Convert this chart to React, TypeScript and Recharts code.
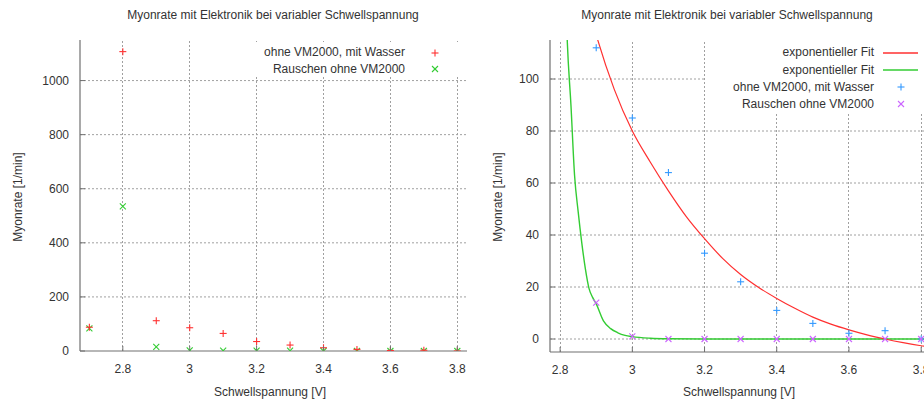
import React from "react";
import { ComposedChart, Scatter, Line, XAxis, YAxis, ReferenceLine } from "recharts";

// ---- data ----
const voltages = [2.7, 2.8, 2.9, 3.0, 3.1, 3.2, 3.3, 3.4, 3.5, 3.6, 3.7, 3.8];
const rateWaterLeft = [88, 1107, 112, 86, 65, 35, 22, 12, 6, 2, 3, 0];
const rateNoiseLeft = [84, 535, 15, 2, 1, 1, 1, 0, 0, 0, 0, 0];
const rateWater = [88, 1107, 112, 85, 64, 33, 22, 11, 6, 2.2, 3.2, 0];
const rateNoise = [84, 535, 14, 1, 0, 0, 0, 0, 0, 0, 0, 0];

const redFitX = [2.88, 2.9, 2.95, 3.0, 3.05, 3.1, 3.15, 3.2, 3.25, 3.3, 3.35, 3.4, 3.45, 3.5, 3.55, 3.6, 3.65, 3.7, 3.75, 3.8, 3.83];
const redFitY = [127, 117, 96, 80, 68, 57, 47, 38.6, 31, 24.8, 19.8, 15.6, 11.8, 8.4, 5.7, 3.5, 1.6, 0, -1.4, -2.6, -3.2];
const greenFitX = [2.8, 2.81, 2.82, 2.83, 2.84, 2.85, 2.86, 2.87, 2.88, 2.89, 2.9, 2.92, 2.94, 2.96, 2.98, 3.0, 3.05, 3.1, 3.2, 3.4, 3.6, 3.83];
const greenFitY = [230, 160, 114, 90, 63, 49, 37, 27, 19.5, 16, 13.5, 7, 4, 2.4, 1.4, 0.9, 0.3, 0.1, 0, 0, 0, 0];

const xTicks = [2.8, 3.0, 3.2, 3.4, 3.6, 3.8];
const yTicksLeft = [0, 200, 400, 600, 800, 1000];
const yTicksRight = [0, 20, 40, 60, 80, 100];

const TITLE = "Myonrate mit Elektronik bei variabler Schwellspannung";
const XLABEL = "Schwellspannung [V]";
const YLABEL = "Myonrate [1/min]";
const LEG_WATER = "ohne VM2000, mit Wasser";
const LEG_NOISE = "Rauschen ohne VM2000";
const LEG_FIT = "exponentieller Fit";

// ---- styles ----
const FONT = '"Liberation Sans", Arial, Helvetica, sans-serif';
const TXT = "#333";
const AXIS = "#707070";
const GRID = "#a0a0a0";
const RED = "#ff3030";
const GREEN = "#33cc33";
const BLUE = "#3399ff";
const PURPLE = "#cc66ff";

const pairs = (xs: number[], ys: number[]) => xs.map((x, i) => ({ x, y: ys[i] }));
const fmt = (v: number) => String(+v.toFixed(1));

const Plus = ({ cx, cy, color, s = 3.5 }: any) => (
  <g stroke={color} strokeWidth={1.1}>
    <line x1={cx - s} x2={cx + s} y1={cy} y2={cy} />
    <line x1={cx} x2={cx} y1={cy - s} y2={cy + s} />
  </g>
);
const Cross = ({ cx, cy, color, s = 3 }: any) => (
  <g stroke={color} strokeWidth={1.1}>
    <line x1={cx - s} x2={cx + s} y1={cy - s} y2={cy + s} />
    <line x1={cx - s} x2={cx + s} y1={cy + s} y2={cy - s} />
  </g>
);

const XTickBottom = (props: any) => {
  const { x, y, payload } = props;
  const ay = y - 13;
  return (
    <g>
      <line x1={x} x2={x} y1={ay} y2={ay - 5} stroke={AXIS} />
      <text x={x} y={y} dy="0.71em" textAnchor="middle" fill={TXT} fontSize={12} fontFamily={FONT}>
        {fmt(payload.value)}
      </text>
    </g>
  );
};
const XTickTop = (props: any) => {
  const { x, y } = props;
  return <line x1={x} x2={x} y1={y} y2={y + 5} stroke={AXIS} />;
};
const YTickLeft = (props: any) => {
  const { x, y, payload } = props;
  const ax = x + 11;
  return (
    <g>
      <line x1={ax} x2={ax + 5} y1={y} y2={y} stroke={AXIS} />
      <text x={x} y={y} dy="0.36em" textAnchor="end" fill={TXT} fontSize={12} fontFamily={FONT}>
        {fmt(payload.value)}
      </text>
    </g>
  );
};
const YTickRight = (props: any) => {
  const { x, y } = props;
  return <line x1={x} x2={x - 5} y1={y} y2={y} stroke={AXIS} />;
};

const abs = (left: number, top: number, extra: any = {}) => ({
  position: "absolute" as const,
  left,
  top,
  fontFamily: FONT,
  fontSize: 12,
  color: TXT,
  whiteSpace: "nowrap" as const,
  ...extra,
});

const Centered = ({ cx, cy, text }: any) => (
  <div style={abs(cx - 200, cy - 8, { width: 400, textAlign: "center", lineHeight: "16px" })}>{text}</div>
);
const YLab = ({ cx, cy }: any) => (
  <div
    style={abs(cx - 100, cy - 8, {
      width: 200,
      textAlign: "center",
      lineHeight: "16px",
      transform: "rotate(-90deg)",
    })}
  >
    {YLABEL}
  </div>
);
const LegendText = ({ right, cy, text }: any) => (
  <div style={abs(right - 250, cy - 8.5, { width: 250, textAlign: "right", lineHeight: "17px" })}>{text}</div>
);
const LegendMark = ({ cx, cy, kind, color }: any) => (
  <svg style={{ position: "absolute", left: cx - 20, top: cy - 8, overflow: "visible" }} width={40} height={16}>
    {kind === "plus" && <Plus cx={20} cy={8} color={color} />}
    {kind === "cross" && <Cross cx={20} cy={8} color={color} />}
    {kind === "line" && <line x1={3} x2={38} y1={8} y2={8} stroke={color} strokeWidth={1.3} />}
  </svg>
);

// vertical grid via reference lines, horizontal grid via flat line series spanning the x domain
const gridLines = (xs: number[], ys: number[], dom: [number, number]) => [
  ...xs.map((v) => (
    <ReferenceLine key={"gx" + v} xAxisId="b" yAxisId="l" x={v} stroke={GRID} strokeDasharray="2 2" strokeWidth={1} shapeRendering="crispEdges" />
  )),
  ...ys.map((v) => (
    <Line
      key={"gy" + v}
      xAxisId="b"
      yAxisId="l"
      data={[{ x: dom[0], y: v }, { x: dom[1], y: v }]}
      dataKey="y"
      type="linear"
      stroke={GRID}
      strokeDasharray="2 2"
      strokeWidth={1}
      dot={false}
      activeDot={false}
      legendType="none"
      isAnimationActive={false}
    />
  )),
];

export default function App() {
  const leftWater = pairs(voltages, rateWaterLeft);
  const leftNoise = pairs(voltages, rateNoiseLeft);
  const rDomX: [number, number] = [2.772, 3.83];
  const rDomY: [number, number] = [-5, 115];
  const inR = (p: { x: number; y: number }) => p.x >= rDomX[0] && p.x <= rDomX[1] && p.y >= rDomY[0] && p.y <= rDomY[1];
  const rightWater = pairs(voltages, rateWater).filter(inR);
  const rightNoise = pairs(voltages, rateNoise).filter(inR);
  const redFit = pairs(redFitX, redFitY);
  const greenFit = pairs(greenFitX, greenFitY);
  const lDomX: [number, number] = [2.672, 3.829];
  const lDomY: [number, number] = [0, 1150];
  const axisLine = { stroke: AXIS, strokeWidth: 1.2 };

  return (
    <div style={{ position: "absolute", left: 0, top: 0, width: 924, height: 407, overflow: "hidden", background: "#fff" }}>
      {/* Left chart */}
      <div style={{ position: "absolute", left: 0, top: 0 }}>
        <ComposedChart width={470} height={407} margin={{ top: 40, right: 3, bottom: 26, left: 0 }}>
          <XAxis xAxisId="b" type="number" dataKey="x" domain={lDomX} ticks={xTicks} interval={0} allowDataOverflow height={30} tickSize={0} tickMargin={13} tick={XTickBottom} axisLine={axisLine} tickLine={false} />
          <XAxis xAxisId="t" orientation="top" type="number" dataKey="x" domain={lDomX} ticks={xTicks} interval={0} allowDataOverflow height={0} tickSize={0} tickMargin={0} tick={XTickTop} axisLine={axisLine} tickLine={false} />
          <YAxis yAxisId="l" type="number" domain={lDomY} ticks={yTicksLeft} interval={0} allowDataOverflow width={80} tickSize={0} tickMargin={11} tick={YTickLeft} axisLine={axisLine} tickLine={false} />
          <YAxis yAxisId="r" orientation="right" type="number" domain={lDomY} ticks={yTicksLeft} interval={0} allowDataOverflow width={0} tickSize={0} tickMargin={0} tick={YTickRight} axisLine={axisLine} tickLine={false} />
          {gridLines(xTicks, yTicksLeft.filter((v) => v > 0), lDomX)}
          <Scatter xAxisId="b" yAxisId="l" data={leftNoise} dataKey="y" isAnimationActive={false} shape={(p: any) => <Cross cx={p.cx} cy={p.cy} color={GREEN} />} />
          <Scatter xAxisId="b" yAxisId="l" data={leftWater} dataKey="y" isAnimationActive={false} shape={(p: any) => <Plus cx={p.cx} cy={p.cy} color={RED} />} />
        </ComposedChart>
      </div>

      {/* Right chart */}
      <div style={{ position: "absolute", left: 470, top: 0 }}>
        <ComposedChart width={470} height={407} margin={{ top: 40, right: 8, bottom: 25, left: 0 }}>
          <XAxis xAxisId="b" type="number" dataKey="x" domain={rDomX} ticks={xTicks} interval={0} allowDataOverflow height={30} tickSize={0} tickMargin={13} tick={XTickBottom} axisLine={axisLine} tickLine={false} />
          <XAxis xAxisId="t" orientation="top" type="number" dataKey="x" domain={rDomX} ticks={xTicks} interval={0} allowDataOverflow height={0} tickSize={0} tickMargin={0} tick={XTickTop} axisLine={axisLine} tickLine={false} />
          <YAxis yAxisId="l" type="number" domain={rDomY} ticks={yTicksRight} interval={0} allowDataOverflow width={80} tickSize={0} tickMargin={11} tick={YTickLeft} axisLine={axisLine} tickLine={false} />
          <YAxis yAxisId="r" orientation="right" type="number" domain={rDomY} ticks={yTicksRight} interval={0} allowDataOverflow width={0} tickSize={0} tickMargin={0} tick={YTickRight} axisLine={axisLine} tickLine={false} />
          {gridLines(xTicks, yTicksRight, rDomX)}
          <Line xAxisId="b" yAxisId="l" data={greenFit} dataKey="y" type="monotone" stroke={GREEN} strokeWidth={1.4} dot={false} isAnimationActive={false} />
          <Line xAxisId="b" yAxisId="l" data={redFit} dataKey="y" type="monotone" stroke={RED} strokeWidth={1.2} dot={false} isAnimationActive={false} />
          <Scatter xAxisId="b" yAxisId="l" data={rightWater} dataKey="y" isAnimationActive={false} shape={(p: any) => <Plus cx={p.cx} cy={p.cy} color={BLUE} />} />
          <Scatter xAxisId="b" yAxisId="l" data={rightNoise} dataKey="y" isAnimationActive={false} shape={(p: any) => <Cross cx={p.cx} cy={p.cy} color={PURPLE} />} />
        </ComposedChart>
      </div>

      {/* Titles and axis labels */}
      <Centered cx={273} cy={15} text={TITLE} />
      <Centered cx={727} cy={15} text={TITLE} />
      <Centered cx={270} cy={392} text={XLABEL} />
      <Centered cx={739} cy={392} text={XLABEL} />
      <YLab cx={18} cy={197} />
      <YLab cx={498} cy={197} />

      {/* Left legend */}
      <div style={{ position: "absolute", left: 250, top: 42, width: 215, height: 35, background: "#fff" }} />
      <LegendText right={405} cy={52.7} text={LEG_WATER} />
      <LegendMark cx={435} cy={52.7} kind="plus" color={RED} />
      <LegendText right={405} cy={69.3} text={LEG_NOISE} />
      <LegendMark cx={435} cy={69.3} kind="cross" color={GREEN} />

      {/* Right legend */}
      <div style={{ position: "absolute", left: 706, top: 42, width: 230, height: 70, background: "#fff" }} />
      <LegendText right={874} cy={52.7} text={LEG_FIT} />
      <LegendMark cx={900} cy={52.7} kind="line" color={RED} />
      <LegendText right={874} cy={70} text={LEG_FIT} />
      <LegendMark cx={900} cy={70} kind="line" color={GREEN} />
      <LegendText right={874} cy={87.3} text={LEG_WATER} />
      <LegendMark cx={901} cy={87.3} kind="plus" color={BLUE} />
      <LegendText right={874} cy={104} text={LEG_NOISE} />
      <LegendMark cx={901} cy={104} kind="cross" color={PURPLE} />
    </div>
  );
}
